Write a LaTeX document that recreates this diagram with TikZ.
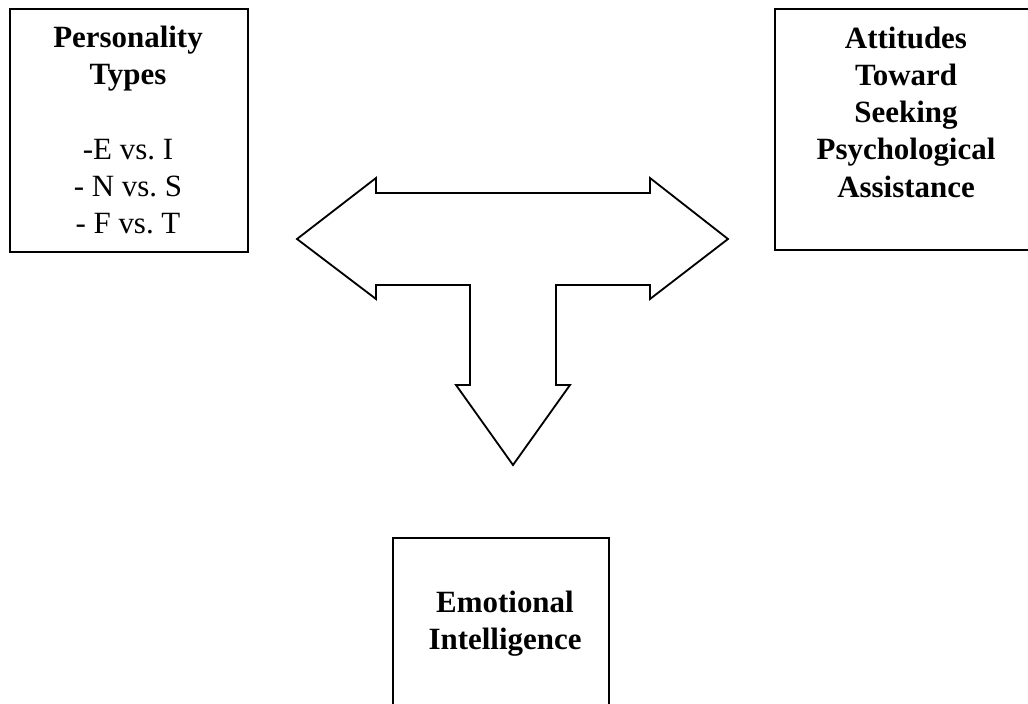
\documentclass[tikz,border=0pt]{standalone}
\usepackage{fontspec}
\setmainfont{Liberation Serif}
\usepackage{tikz}
\usetikzlibrary{positioning,shapes}

\begin{document}
\begin{tikzpicture}[x=0.025cm,y=-0.025cm,
    box/.style={rectangle, draw, line width=1.3pt, inner sep=0pt},
    heading/.style={align=center, font=\fontsize{22}{26.5}\selectfont\bfseries},
    bigarrow/.style={draw, line width=1.3pt, line join=miter, fill=white}]
    \path[use as bounding box, clip] (0,0) rectangle (1028,704);

    % Define boxes
    \node[box, minimum width=5.95cm, minimum height=6.075cm] (pers) at (129,130.5) {};
    \node[box, minimum width=6.55cm, minimum height=6.025cm] (att) at (906,129.5) {};
    \node[box, minimum width=5.4cm, minimum height=4.3cm] (emo) at (501,624) {};

    % Box texts
    \node[heading] (perstxt) at (128,130) {Personality\\Types\\~\\\mdseries -E vs.\ I\\\mdseries - N vs.\ S\\\mdseries - F vs.\ T};
    \node[heading] (atttxt) at (906,112) {Attitudes\\Toward\\Seeking\\Psychological\\Assistance};
    \node[heading] (emotxt) at (505,624) {Emotional\\Intelligence};

    % Three-way block arrow
    \draw[bigarrow] (297,239) -- (376,178) -- (376,193) -- (650,193) -- (650,178)
        -- (728,239) -- (650,299) -- (650,285) -- (556,285) -- (556,385)
        -- (570,385) -- (513,465) -- (456,385) -- (470,385) -- (470,285)
        -- (376,285) -- (376,299) -- cycle;
\end{tikzpicture}
\end{document}
